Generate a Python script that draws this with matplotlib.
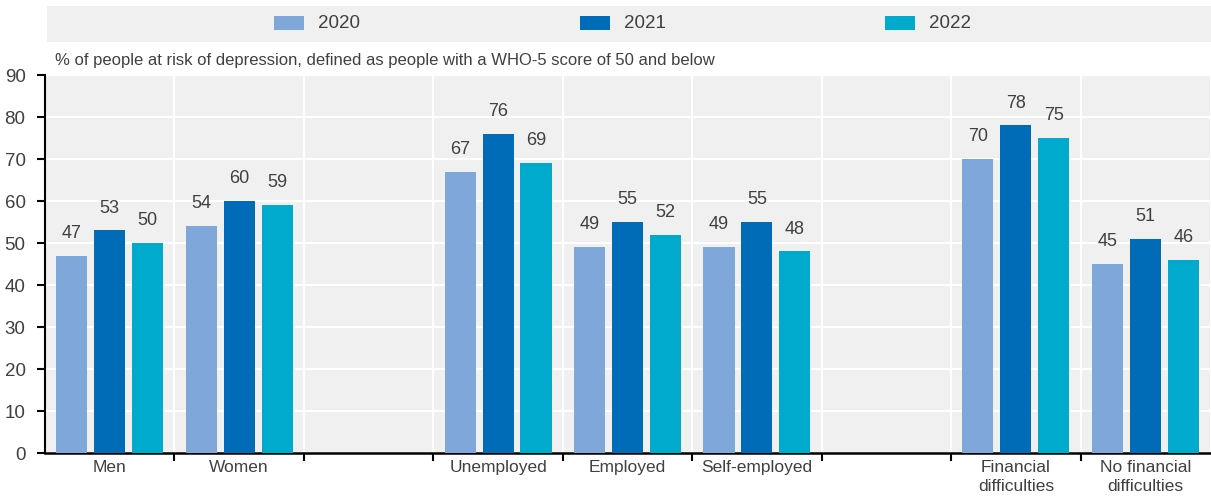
import matplotlib
matplotlib.use("Agg")
import matplotlib.pyplot as plt
from matplotlib.patches import Rectangle
import numpy as np

categories = ["Men", "Women", "", "Unemployed", "Employed", "Self-employed", "",
              "Financial\ndifficulties", "No financial\ndifficulties"]
years = ["2020", "2021", "2022"]
v2020 = [47, 54, None, 67, 49, 49, None, 70, 45]
v2021 = [53, 60, None, 76, 55, 55, None, 78, 51]
v2022 = [50, 59, None, 69, 52, 48, None, 75, 46]
colors = ["#7FA7D9", "#006BB6", "#00AACC"]
subtitle = "% of people at risk of depression, defined as people with a WHO-5 score of 50 and below"

plt.rcParams['font.family'] = ['Liberation Sans Narrow', 'Liberation Sans', 'DejaVu Sans']
txt = "#404040"
bg = "#F0F0F0"

W, H = 1211, 500
fig = plt.figure(figsize=(W / 100, H / 100), dpi=100)
ax = fig.add_axes([45 / W, 1 - 453 / H, (1210 - 45) / W, (453 - 75) / H])
ax.set_facecolor(bg)

x = np.arange(len(categories))
offsets = [-0.293, 0.0, 0.293]
width = 0.24
for vals, off, col in zip([v2020, v2021, v2022], offsets, colors):
    xs = [xi + off for xi, v in zip(x, vals) if v is not None]
    ys = [v for v in vals if v is not None]
    bars = ax.bar(xs, ys, width=width, color=col, zorder=3)
    for b, v in zip(bars, ys):
        ax.annotate(f"{v}", (b.get_x() + b.get_width() / 2, v), xytext=(0, 10),
                    textcoords="offset points", ha="center", va="bottom",
                    fontsize=13, color=txt)

ax.set_xlim(-0.5, len(categories) - 0.5)
ax.set_ylim(0, 90)
ax.set_yticks(np.arange(0, 91, 10))
ax.set_xticks(np.arange(0.5, len(categories) - 0.5, 1))
ax.set_xticklabels([])
ax.set_xticks(x, minor=True)
ax.set_xticklabels(categories, minor=True, fontsize=12.5, color=txt, linespacing=1.3)
ax.tick_params(axis="x", which="minor", length=0, pad=5)
ax.tick_params(axis="x", which="major", length=6, width=1.5, direction="out", color="black")
ax.tick_params(axis="y", length=6, width=1.5, direction="out", labelsize=13.5,
               labelcolor=txt, pad=8)
ax.grid(True, axis="y", color="white", linewidth=1.5, zorder=0)
ax.grid(True, axis="x", which="major", color="white", linewidth=1.5, zorder=0)
ax.set_axisbelow(True)
for s in ["top", "right"]:
    ax.spines[s].set_visible(False)
ax.spines["left"].set_linewidth(1.5)
ax.spines["bottom"].set_linewidth(1.8)

fig.text(55 / W, 1 - 60 / H, subtitle, fontsize=12, color=txt, ha="left", va="center")

# legend band
fig.patches.append(Rectangle((47 / W, 1 - 42 / H), (W - 47) / W, 36 / H,
                             transform=fig.transFigure, facecolor=bg, edgecolor="none", zorder=0))
leg_x = [274, 580, 885]
for lx, yr, col in zip(leg_x, years, colors):
    fig.patches.append(Rectangle((lx / W, 1 - 30 / H), 30 / W, 14 / H,
                                 transform=fig.transFigure, facecolor=col, edgecolor="none"))
    fig.text((lx + 44) / W, 1 - 23 / H, yr, fontsize=13.5, color=txt, ha="left", va="center")

fig.savefig("out.png", dpi=100)
